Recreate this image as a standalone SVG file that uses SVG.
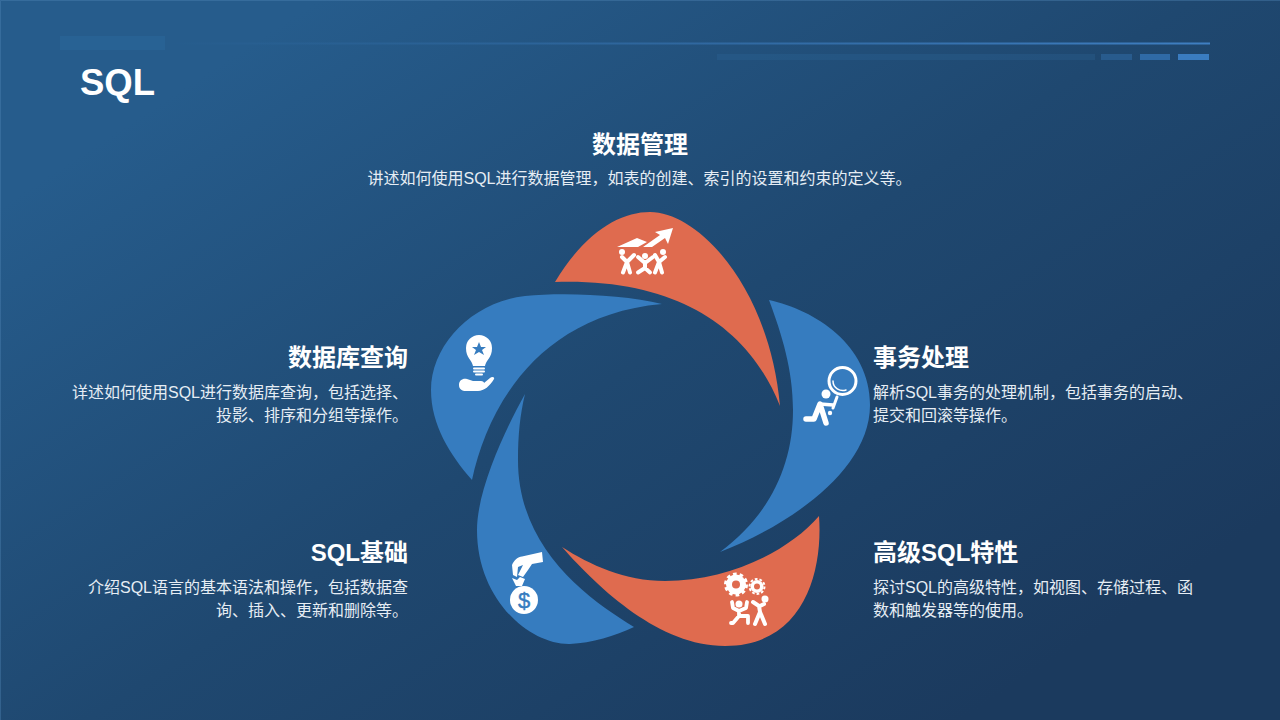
<svg xmlns="http://www.w3.org/2000/svg" width="1280" height="720" viewBox="0 0 1280 720">
<style>
.h{font:bold 24px "Liberation Sans","Noto Sans CJK SC",sans-serif;fill:#fff}
.b{font:16px "Liberation Sans","Noto Sans CJK SC",sans-serif;fill:#e6edf4}
.e{text-anchor:end}
.blue{fill:#367cbf}.or{fill:#df6b4f}
.w{fill:#fff}
.s{fill:none;stroke:#fff;stroke-linecap:round;stroke-linejoin:round}
</style>
<defs>
<linearGradient id="bg" gradientUnits="userSpaceOnUse" x1="380" y1="-40" x2="900" y2="760">
<stop offset="0" stop-color="#265c8c"/><stop offset=".5" stop-color="#1f4870"/><stop offset="1" stop-color="#1b3a5e"/>
</linearGradient>
<linearGradient id="ln" x1="0" x2="1" y1="0" y2="0">
<stop offset="0" stop-color="#3a7cc0" stop-opacity="0"/><stop offset="1" stop-color="#3f7fc2"/>
</linearGradient>
</defs>
<rect width="1280" height="720" fill="url(#bg)"/>
<path d="M.5 720V.5H1280" fill="none" stroke="#4f85b5" stroke-opacity=".4"/>
<g id="header">
<rect x="60" y="36" width="105" height="14" fill="#2d6a9e" fill-opacity=".45"/>
<rect x="165" y="42.500" width="1045" height="2" fill="url(#ln)"/>
<rect x="717" y="54" width="378" height="6" fill="#2f6a9e" fill-opacity=".25"/>
<rect x="1101" y="54" width="31" height="6" fill="#2f6ba5" fill-opacity=".55"/>
<rect x="1140" y="54" width="30" height="6" fill="#3371b0" fill-opacity=".85"/>
<rect x="1178" y="54" width="31" height="6" fill="#3a7cc0"/>
<text x="80" y="95" font-family="Liberation Sans,sans-serif" font-weight="bold" font-size="36.500" fill="#fff">SQL</text>
</g>
<g id="node-top">
<path class="or" d="M555 282C585 232 620 212 650 212C700 212 770 290 780 406C750 330 680 278 555 282Z"/>
<path class="w" d="M617 247L637 238L647 242L638 247ZM643 247L660 235L655 232L673 228L668 244L665 238L652 247Z"/>
<circle class="w" cx="622" cy="252" r="3"/><circle class="w" cx="645" cy="256" r="3"/><circle class="w" cx="663" cy="252" r="3"/>
<path class="s" stroke-width="4" d="M622 257L627 262L634 255M627 262L623 272.500M627 262L630 272.500"/>
<path class="s" stroke-width="4" d="M638 257L645 263L653 257M645 263V268L638 272.500M645 268L650 272.500"/>
<path class="s" stroke-width="4" d="M655 255L659 262L665 257M659 262L655 272.500M659 262L662 272.500"/>
<text class="h" x="640" y="153" text-anchor="middle">数据管理</text>
<text class="b" x="639.500" y="184" text-anchor="middle">讲述如何使用SQL进行数据管理，如表的创建、索引的设置和约束的定义等。</text>
</g>
<g id="node-right">
<path class="blue" d="M769 300C815 310 870 345 870 405C870 470 790 525 720 552C770 515 793 465 793 410C793 370 782 335 769 300Z"/>
<circle cx="842.500" cy="381" r="13.500" fill="none" stroke="#fff" stroke-width="3"/>
<path class="s" stroke-width="1.500" d="M833 381C833 388 840 392 846 390"/>
<path class="s" stroke-width="3" d="M837 397L833 408"/>
<circle class="w" cx="826" cy="394" r="4.500"/>
<circle class="w" cx="830" cy="413" r="2.200"/>
<path class="s" stroke-width="5.500" d="M806 419H814L820 404L826 423"/>
<path class="s" stroke-width="3.500" d="M820 404L833 405"/>
<text class="h" x="873" y="366">事务处理</text>
<text class="b" x="873" y="398">解析SQL事务的处理机制，包括事务的启动、</text>
<text class="b" x="873" y="421">提交和回滚等操作。</text>
</g>
<g id="node-bottom-right">
<path class="or" d="M562 547C590 565 625 581 665 581C730 581 790 550 819 516C823 570 805 646 725 646C660 646 600 590 562 547Z"/>
<circle cx="736" cy="584.500" r="10" class="w"/>
<circle cx="736" cy="584.500" r="10.500" fill="none" stroke="#fff" stroke-width="3" stroke-dasharray="3.600 3"/>
<circle cx="736" cy="584.500" r="4" fill="#df6b4f"/>
<circle cx="757" cy="586.500" r="6.500" class="w"/>
<circle cx="757" cy="586.500" r="7.500" fill="none" stroke="#fff" stroke-width="2" stroke-dasharray="2.700 2"/>
<circle cx="757" cy="586.500" r="3" fill="#df6b4f"/>
<circle class="w" cx="739" cy="604" r="3.500"/><circle class="w" cx="765" cy="599" r="3.500"/>
<path class="s" stroke-width="3.800" d="M732 602L733 608L739 611L746 608L747 602M739 611V616L733 623H731M739 616L748 616V623"/>
<path class="s" stroke-width="4" d="M753 602L759 606L760 612L755 624M760 612L765 624M760 606L764 604"/>
<text class="h" x="873" y="561">高级SQL特性</text>
<text class="b" x="873" y="593">探讨SQL的高级特性，如视图、存储过程、函</text>
<text class="b" x="873" y="616">数和触发器等的使用。</text>
</g>
<g id="node-bottom-left">
<path class="blue" d="M525 394C505 430 477 490 477 530C477 600 530 645 570 644C592 643 615 636 634 627C590 600 518 550 518 460C518 435 520 415 525 394Z"/>
<path class="w" d="M512 565C514 560 518 557 522 556.500L542 552L543 562L532 564L528 570L523 577L518 575L523 565L518 567L517 577L513 575Z"/>
<path class="w" d="M512 578L517 580L520 577L525 579L522 586H516Z"/>
<circle class="w" cx="524" cy="600" r="14"/>
<text x="524" y="608" text-anchor="middle" font-family="Liberation Sans,sans-serif" font-size="22" fill="#367cbf" stroke="#367cbf" stroke-width=".4">$</text>
<text class="h e" x="408" y="561">SQL基础</text>
<text class="b e" x="408" y="593">介绍SQL语言的基本语法和操作，包括数据查</text>
<text class="b e" x="408" y="616">询、插入、更新和删除等。</text>
</g>
<g id="node-left">
<path class="blue" d="M662 304C625 295 565 292 525 296C472 302 431 345 431 390C431 425 450 455 472 480C488 405 540 315 662 304Z"/>
<path class="w" d="M473 366C472 360 466 358 466 348A13 13 0 0 1 492 348C492 358 486 360 485 366Z"/>
<path d="M479 342L481 347H486L482 350L484 355L479 352L474 355L476 350L472 347H477Z" fill="#367cbf"/>
<rect class="w" x="473" y="367.500" width="12" height="2" rx="1"/><rect class="w" x="473" y="370.500" width="12" height="2" rx="1"/><rect class="w" x="475" y="373.500" width="8" height="2" rx="1"/>
<path class="w" d="M459 385C459 380 463 378 467 379L473 381H481C483 381 484 382 484 383L490 378C492 376 495 377 494 379C490 386 484 391 478 391H466C462 391 459 389 459 385Z"/>
<text class="h e" x="408" y="366">数据库查询</text>
<text class="b e" x="408" y="398">详述如何使用SQL进行数据库查询，包括选择、</text>
<text class="b e" x="408" y="421">投影、排序和分组等操作。</text>
</g>
<g id="connectors"></g>
</svg>
